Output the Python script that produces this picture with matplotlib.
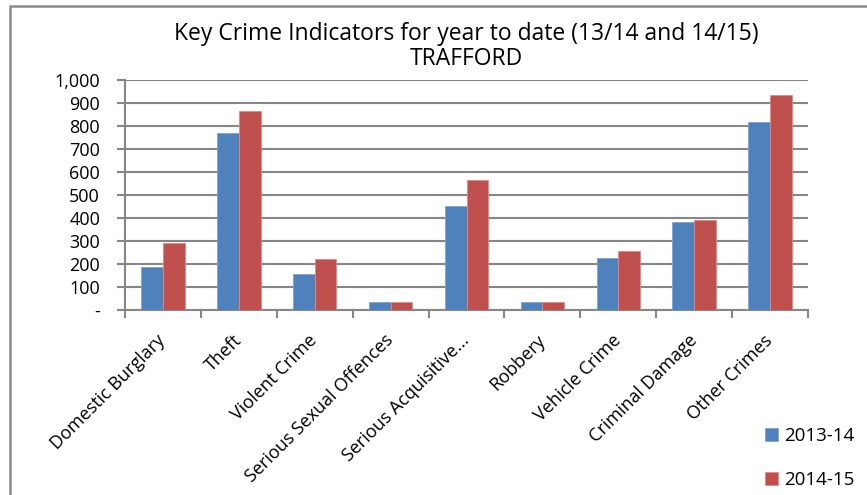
import numpy as np
import matplotlib.pyplot as plt
from matplotlib.ticker import FuncFormatter, FixedLocator
from matplotlib.patches import Rectangle

categories = ['Domestic Burglary', 'Theft', 'Violent Crime', 'Serious Sexual Offences',
              'Serious Acquisitive...', 'Robbery', 'Vehicle Crime', 'Criminal Damage', 'Other Crimes']
y2013 = [188, 771, 157, 35, 452, 33, 226, 384, 819]
y2014 = [290, 867, 222, 35, 565, 33, 255, 393, 935]
series_labels = ['2013-14', '2014-15']

plt.rcParams['font.family'] = ['Open Sans', 'DejaVu Sans']

W, H = 867, 495
fig = plt.figure(figsize=(W / 100, H / 100), dpi=100)
ax = fig.add_axes([125 / W, 1 - 310 / H, (808 - 125) / W, 230 / H])

blue = '#4F81BD'
red = '#C0504D'
grid_color = '#868686'

x = np.arange(len(categories))
w = 1 / 3.5
b1 = ax.bar(x - w / 2, y2013, w, color=blue, edgecolor='#7EA3D3', linewidth=0.6, label=series_labels[0], zorder=3)
b2 = ax.bar(x + w / 2, y2014, w, color=red, edgecolor='#E08A88', linewidth=0.6, label=series_labels[1], zorder=3)

ax.set_xlim(-0.5, len(categories) - 0.5)
ax.set_ylim(0, 1000)
ax.set_yticks(np.arange(0, 1001, 100))
ax.yaxis.set_major_formatter(FuncFormatter(lambda v, p: '-' if v == 0 else f'{int(v):,}'))
ax.grid(axis='y', color=grid_color, linewidth=1.5, zorder=0)

# category boundaries as tick marks, labels at centres
ax.xaxis.set_major_locator(FixedLocator(np.arange(len(categories) + 1) - 0.5))
ax.xaxis.set_minor_locator(FixedLocator(x))
ax.set_xticklabels([], minor=False)
ax.set_xticklabels(categories, minor=True, rotation=45, ha='right', va='center',
                   rotation_mode='anchor', fontsize=13)
ax.tick_params(axis='x', which='major', length=6, width=1.5, color=grid_color)
ax.tick_params(axis='x', which='minor', length=0, pad=20)
ax.tick_params(axis='y', length=6, width=1.5, color=grid_color, labelsize=13, pad=12)

for s in ['top', 'right']:
    ax.spines[s].set_visible(False)
for s in ['left', 'bottom']:
    ax.spines[s].set_color(grid_color)
    ax.spines[s].set_linewidth(1.5)

fig.text(466 / W, 1 - 40.5 / H, 'Key Crime Indicators for year to date (13/14 and 14/15)',
         ha='center', va='baseline', fontsize=16.5)
fig.text(466 / W, 1 - 64.5 / H, 'TRAFFORD', ha='center', va='baseline', fontsize=16.5)

fig.legend(handles=[b1, b2], labels=series_labels, loc='upper left',
           bbox_to_anchor=(748 / W, 1 - 410 / H), frameon=False, fontsize=13.5,
           labelspacing=1.4, handlelength=0.7, handleheight=0.7, handletextpad=0.35)

# outer chart border
fig.patches.append(Rectangle((10 / W, -0.1), 1.2, 1 - 6 / H + 0.1, transform=fig.transFigure,
                             fill=False, edgecolor='#8C8C8C', linewidth=1.8))

fig.savefig('out.png', dpi=100)
